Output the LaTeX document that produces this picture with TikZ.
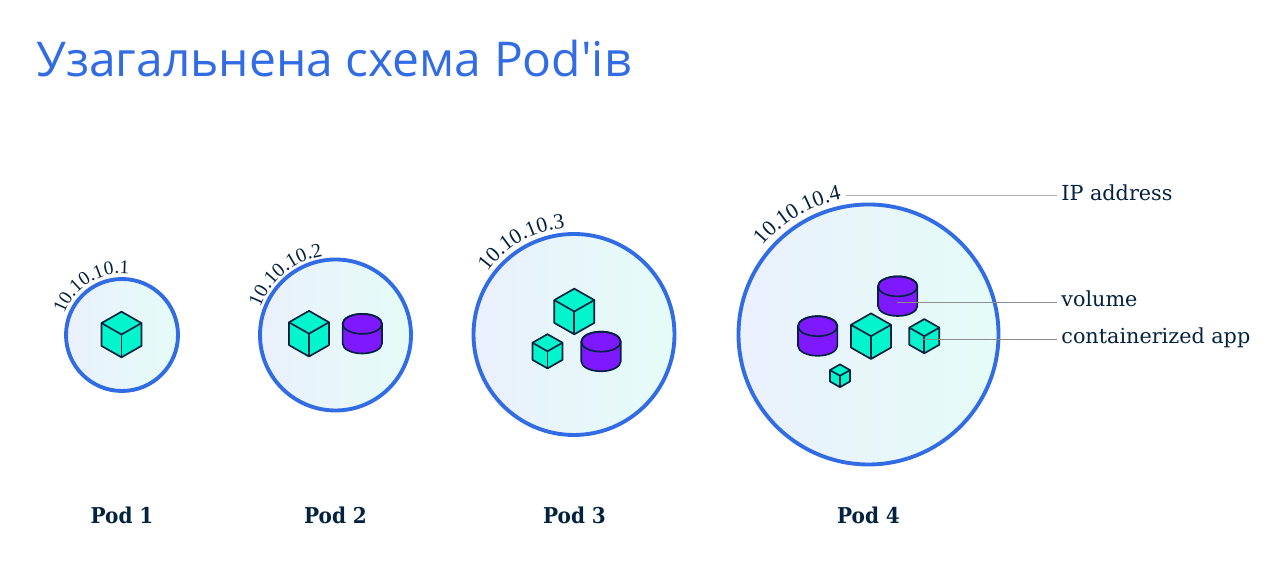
\documentclass[tikz,border=0pt]{standalone}
\usepackage{fontspec}
\usetikzlibrary{calc,decorations.text}
\newfontfamily\titlefont{Open Sans}
\newfontfamily\labelfont{DejaVu Serif}
\newfontfamily\podfont[FakeStretch=0.92]{DejaVu Serif Bold}
\newfontfamily\ipfont{Liberation Serif}
\definecolor{navy}{HTML}{03223F}
\definecolor{kubeblue}{HTML}{326CE5}
\definecolor{podleft}{HTML}{EAF0FC}
\definecolor{podright}{HTML}{E5FCF8}
\definecolor{cubefill}{HTML}{02F5CD}
\definecolor{volfill}{HTML}{7E19FF}
\tikzset{
	pod/.style={line width=2.2pt, draw=kubeblue, left color=podleft, right color=podright},
	shapeline/.style={line width=0.95pt, draw=navy, line join=round},
	leader/.style={line width=0.5pt, color=#1},
	sidelabel/.style={anchor=base west, inner ysep=0pt, inner xsep=2.3pt, text=navy, font=\labelfont\fontsize{11.8}{14}\selectfont},
	podlabel/.style={text=navy, font=\podfont\fontsize{12.4}{14}\selectfont},
	cube/.pic={
		\draw[shapeline, fill=cubefill] (0, 22.8) -- (20, 11.4) -- (20, -11.4) -- (0, -22.8) -- (-20, -11.4) -- (-20, 11.4) -- cycle;
		\draw[shapeline] (-20, 11.4) -- (0, 0) -- (20, 11.4);
		\draw[shapeline] (0, 0) -- (0, -22.8);
	},
	volume/.pic={
		\draw[shapeline, fill=volfill] (-19.7, 9.8) -- (-19.7, -9.8) arc (180:360:19.7 and 10) -- (19.7, 9.8) arc (0:180:19.7 and 10);
		\draw[shapeline] (0, 9.8) ellipse (19.7 and 10);
	}
}
\def\iparc[#1](#2)(#3:#4:#5)#6{\path[decorate, decoration={text along path, text={|\ipfont\fontsize{#1}{#1}\selectfont\color{navy}|#6}}] ($(#2)+({#5*cos(#3)},{#5*sin(#3)})$) arc (#3:#4:#5);}

\begin{document}
\begin{tikzpicture}[x=0.02cm, y=0.02cm]
	%%%%% START %%%%%
	\useasboundingbox (0, 0) rectangle (1271, 570);
	
	\node[anchor=base west, inner sep=0pt, text=kubeblue, font=\titlefont\fontsize{27.3}{30}\selectfont] (title) at (36, 493) {Узагальнена схема Pod'ів};
	
	\draw[pod] (122, 235) circle (56);
	\draw[pod] (335.5, 235) circle (75.5);
	\draw[pod] (574, 235.5) circle (100.5);
	\draw[pod] (868.5, 235.5) circle (130);
	
	\iparc[11](122, 235)(160:40:61.5){10.10.10.1}
	\iparc[11.4](335.5, 235)(160:60:80){10.10.10.2}
	\iparc[12.3](574, 235.5)(144:60:107){10.10.10.3}
	\iparc[12.5](868.5, 235.5)(140:60:138){10.10.10.4}
	
	\pic at (121.5, 235.5) {cube};
	
	\pic at (309, 236.3) {cube};
	\pic at (362.3, 236.3) {volume};
	
	\pic at (574.3, 258.5) {cube};
	\pic[scale=0.75] at (547.5, 218.7) {cube};
	\pic at (601, 218.5) {volume};
	
	\pic at (897.7, 273.8) {volume};
	\pic at (817.7, 234) {volume};
	\pic at (871, 233.8) {cube};
	\pic[scale=0.75] at (924.3, 233.8) {cube};
	\pic[scale=0.5] at (840, 194.2) {cube};
	
	\node[sidelabel] (iplabel) at (1057, 369.5) {IP address};
	\node[sidelabel] (vollabel) at (1057, 263.5) {volume};
	\node[sidelabel] (applabel) at (1057, 226.5) {containerized app};
	
	\coordinate (ipend) at (846, 374.5);
	\coordinate (volend) at (897, 268);
	\coordinate (append) at (922, 231);
	
	\draw[leader=black!30] (ipend) -- (ipend -| iplabel.west);
	\draw[leader=black!45] (volend) -- (volend -| vollabel.west);
	\draw[leader=black!45] (append) -- (append -| applabel.west);
	
	\node[podlabel] (podone) at (122, 55) {Pod 1};
	\node[podlabel] (podtwo) at (335.5, 55) {Pod 2};
	\node[podlabel] (podthree) at (574.5, 55) {Pod 3};
	\node[podlabel] (podfour) at (868.5, 55) {Pod 4};
	
	%%%%% END %%%%%
\end{tikzpicture}
\end{document}
